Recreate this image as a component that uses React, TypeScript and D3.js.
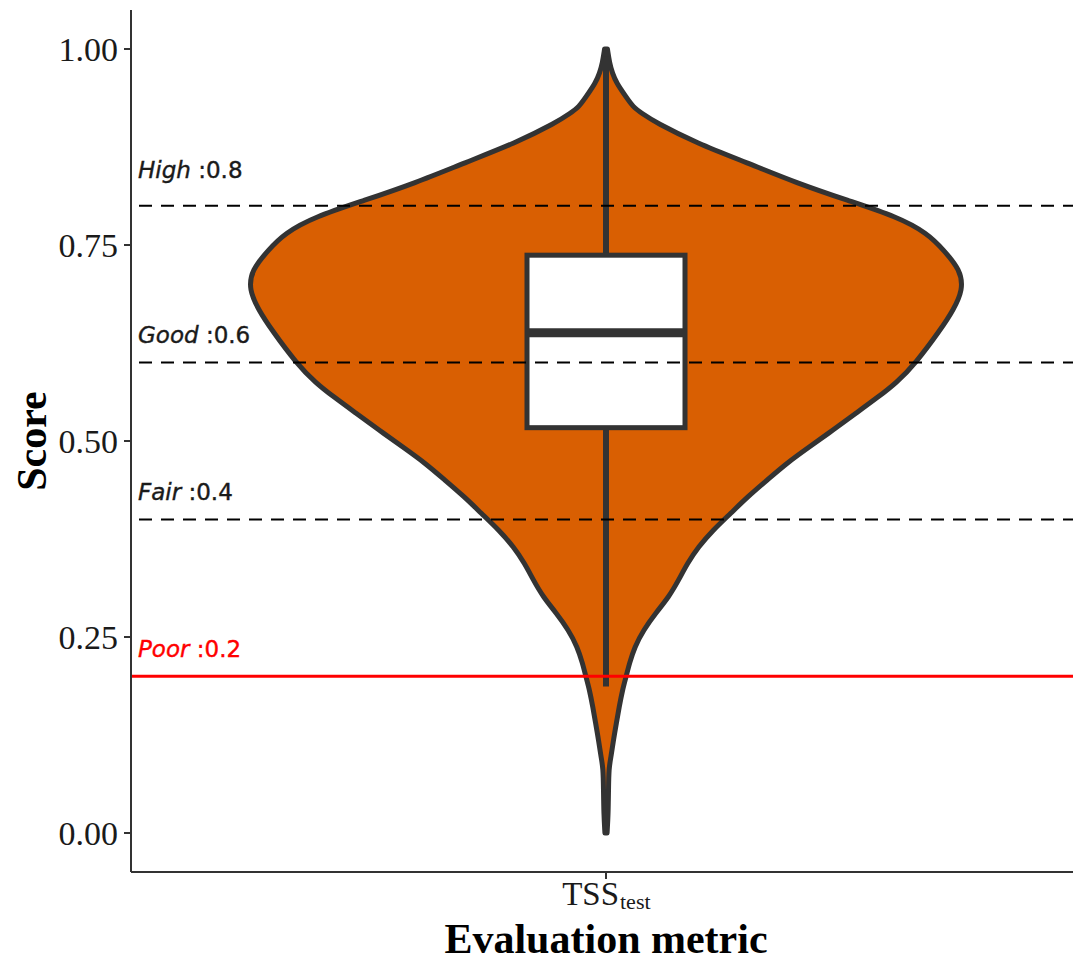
import React from 'react';
import * as d3 from 'd3';

// y-axis ticks
const yTicks = [0, 0.25, 0.5, 0.75, 1.0];

// violin outline: score vs relative density (1 = widest point)
const violinScore = [
  1.0, 0.982, 0.969, 0.957, 0.939, 0.926, 0.918, 0.906, 0.88, 0.855, 0.829, 0.807, 0.786, 0.765,
  0.744, 0.718, 0.693, 0.667, 0.642, 0.599, 0.574, 0.556, 0.536, 0.514, 0.492, 0.472, 0.45,
  0.429, 0.408, 0.386, 0.365, 0.344, 0.323, 0.301, 0.281, 0.259, 0.237, 0.217, 0.199, 0.182,
  0.161, 0.14, 0.119, 0.097, 0.083, 0.055, 0.023, 0.0,
];
const violinDensity = [
  0.004, 0.01, 0.018, 0.029, 0.056, 0.076, 0.1, 0.14, 0.254, 0.395, 0.535, 0.676, 0.816, 0.9,
  0.945, 0.993, 1.0, 0.973, 0.937, 0.867, 0.813, 0.762, 0.702, 0.636, 0.568, 0.507, 0.451,
  0.397, 0.35, 0.299, 0.259, 0.228, 0.204, 0.176, 0.14, 0.105, 0.08, 0.066, 0.056, 0.046,
  0.037, 0.029, 0.021, 0.014, 0.008, 0.007, 0.006, 0.003,
];

// box plot stats
const category = ['TSS'];
const boxQ1 = 0.517;
const boxMedian = 0.638;
const boxQ3 = 0.737;
const whiskerLow = 0.187;
const whiskerHigh = 0.99;

// reference lines
const refLabels = ['High', 'Good', 'Fair', 'Poor'];
const refValues = [0.8, 0.6, 0.4, 0.2];
const refLabelAt = [0.835, 0.625, 0.425, 0.225];

const W = 1073;
const H = 962;
const left = 131;
const top = 10;
const bottom = 872;

export default function App() {
  const y = d3.scaleLinear().domain([0, 1]).range([833, 49]);
  const x = d3.scaleBand().domain(category).range([left, 1081]);
  const cx = x('TSS')! + x.bandwidth() / 2;
  const w = d3.scaleLinear().domain([0, 1]).range([0, 357]);

  const pts = violinScore.map((s, i) => ({ s, d: violinDensity[i] }));
  const area = d3
    .area<{ s: number; d: number }>()
    .y((p) => y(p.s))
    .x0((p) => cx - w(p.d))
    .x1((p) => cx + w(p.d))
    .curve(d3.curveBasis);

  const boxHalf = 79;
  const serif = '"Liberation Serif", "Times New Roman", serif';
  const sans = '"DejaVu Sans", Verdana, sans-serif';

  return (
    <div style={{ position: 'absolute', left: 0, top: 0 }}>
      <svg width={W} height={H} style={{ display: 'block', background: '#fff' }}>
        {/* violin */}
        <path d={area(pts) || ''} fill="#D95F02" stroke="#333333" strokeWidth={5} strokeLinejoin="round" />

        {/* whiskers */}
        <line x1={cx} x2={cx} y1={y(boxQ3)} y2={y(whiskerHigh)} stroke="#333333" strokeWidth={6} />
        <line x1={cx} x2={cx} y1={y(boxQ1)} y2={y(whiskerLow)} stroke="#333333" strokeWidth={6} />

        {/* box */}
        <rect
          x={cx - boxHalf}
          y={y(boxQ3)}
          width={boxHalf * 2}
          height={y(boxQ1) - y(boxQ3)}
          fill="#ffffff"
          stroke="#333333"
          strokeWidth={5}
        />
        <line x1={cx - boxHalf} x2={cx + boxHalf} y1={y(boxMedian)} y2={y(boxMedian)} stroke="#333333" strokeWidth={9} />

        {/* reference lines */}
        {refValues.map((v, i) => {
          const isPoor = refLabels[i] === 'Poor';
          return (
            <line
              key={'l' + i}
              x1={left}
              x2={W}
              y1={y(v)}
              y2={y(v)}
              stroke={isPoor ? '#ff0000' : '#000000'}
              strokeWidth={isPoor ? 3 : 2}
              strokeDasharray={isPoor ? undefined : '13 9'}
              strokeDashoffset={isPoor ? undefined : 14}
            />
          );
        })}
        {refValues.map((v, i) => {
          const isPoor = refLabels[i] === 'Poor';
          return (
            <text
              key={'t' + i}
              x={138}
              y={y(refLabelAt[i])}
              fontFamily={sans}
              fontSize={23}
              fill={isPoor ? '#ff0000' : '#1a1a1a'}
              stroke={isPoor ? '#ff0000' : '#1a1a1a'}
              strokeWidth={0.4}
            >
              <tspan fontStyle="italic">{refLabels[i]}</tspan>
              <tspan>{' :' + v.toFixed(1)}</tspan>
            </text>
          );
        })}

        {/* axes */}
        <line x1={left} x2={left} y1={top} y2={bottom} stroke="#333333" strokeWidth={2} />
        <line x1={left} x2={W} y1={bottom} y2={bottom} stroke="#333333" strokeWidth={2} />
        {yTicks.map((t) => (
          <g key={t}>
            <line x1={left - 7} x2={left} y1={y(t)} y2={y(t)} stroke="#333333" strokeWidth={2} />
            <text
              x={118}
              y={y(t)}
              dy="0.35em"
              textAnchor="end"
              fontFamily={serif}
              fontSize={34}
              fill="#1a1a1a"
            >
              {t.toFixed(2)}
            </text>
          </g>
        ))}
        <line x1={cx} x2={cx} y1={bottom} y2={bottom + 7} stroke="#333333" strokeWidth={2} />
        <text x={cx + 13} y={905} textAnchor="end" fontFamily={serif} fontSize={33} fill="#1a1a1a">
          TSS
        </text>
        <text x={cx + 14} y={909} textAnchor="start" fontFamily={serif} fontSize={22} fill="#1a1a1a">
          test
        </text>

        {/* titles */}
        <text
          transform={`translate(46, ${(y(0) + y(1)) / 2}) rotate(-90)`}
          textAnchor="middle"
          fontFamily={serif}
          fontWeight="bold"
          fontSize={42}
          fill="#000"
        >
          Score
        </text>
        <text x={cx} y={953} textAnchor="middle" fontFamily={serif} fontWeight="bold" fontSize={42} fill="#000">
          Evaluation metric
        </text>
      </svg>
    </div>
  );
}
